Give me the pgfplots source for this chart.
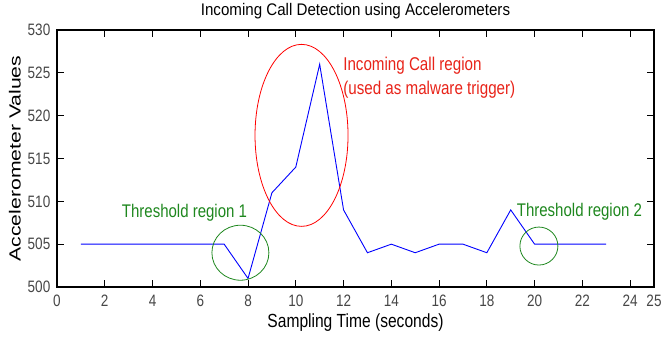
\documentclass[border=0pt]{standalone}
\usepackage{fontspec}
\setmainfont{Liberation Sans}
\newfontfamily\narrow[FakeStretch=0.82]{Liberation Sans}
\newfontfamily\titlefont[FakeStretch=0.9]{Liberation Sans}
\usepackage{pgfplots}
\pgfplotsset{compat=1.18}
\definecolor{ann red}{RGB}{232,35,25}
\definecolor{ann green}{RGB}{30,135,30}
\definecolor{tickgray}{RGB}{70,70,70}
\begin{document}
\begin{tikzpicture}
\begin{axis}[
  scale only axis,
  width=597bp, height=257bp,
  xmin=0, xmax=25, ymin=500, ymax=530,
  xtick={0,2,4,6,8,10,12,14,16,18,20,22,24,25},
  ytick={500,505,510,515,520,525,530},
  tick align=inside,
  major tick length=7bp,
  axis line style={line width=1.1bp},
  tick style={black, line width=0.7bp},
  /pgf/number format/assume math mode=true,
  ticklabel style={font=\narrow\fontsize{16.5bp}{18bp}\selectfont, text=tickgray, inner sep=0pt},
  yticklabel style={anchor=east, xshift=-6.5bp},
  xticklabel style={anchor=north, yshift=-8bp},
  clip=false,
  xlabel={Sampling Time (seconds)},
  xlabel style={font=\narrow\fontsize{19bp}{21bp}\selectfont, at={(axis description cs:0.5,0)}, anchor=base, yshift=-40bp, inner sep=0pt},
  ylabel={\scalebox{1}[0.76]{\fontsize{21.2bp}{23bp}\selectfont Accelerometer Values}},
  ylabel style={at={(axis description cs:-0.0704,0.5)}, anchor=center, inner sep=0pt},
]
\addplot[color=blue, line width=0.9bp] coordinates {
  (1,505) (2,505) (3,505) (4,505) (5,505) (6,505) (7,505)
  (8,501) (9,511) (10,514) (11,526) (12,509) (13,504) (14,505)
  (15,504) (16,505) (17,505) (18,504) (19,509) (20,505) (21,505)
  (22,505) (23,505)
};
\draw[red, line width=0.8bp] (axis cs:10.24,517.7) ellipse [x radius=46.5bp, y radius=91bp];
\draw[ann green, line width=0.8bp] (axis cs:7.68,504.0) ellipse [x radius=28.5bp, y radius=27.5bp];
\draw[ann green, line width=0.8bp] (axis cs:20.18,504.78) ellipse [x radius=19bp, y radius=19bp];
\node[anchor=base west, inner sep=0pt, text=ann red, font=\narrow\fontsize{18.5bp}{20bp}\selectfont] at (axis cs:11.98,525.32) {Incoming Call region};
\node[anchor=base west, inner sep=0pt, text=ann red, font=\narrow\fontsize{18.5bp}{20bp}\selectfont] at (axis cs:11.98,522.52) {(used as malware trigger)};
\node[anchor=base west, inner sep=0pt, text=ann green, font=\narrow\fontsize{18.3bp}{20bp}\selectfont] at (axis cs:2.71,508.09) {Threshold region 1};
\node[anchor=base west, inner sep=0pt, text=ann green, font=\narrow\fontsize{18.3bp}{20bp}\selectfont] at (axis cs:19.25,508.25) {Threshold region 2};
\node[anchor=base, inner sep=0pt, yshift=14bp, font=\titlefont\fontsize{16.8bp}{18bp}\selectfont] at (rel axis cs:0.5,1) {Incoming Call Detection using Accelerometers};
\end{axis}
\pgfresetboundingbox
\path[use as bounding box] (-57bp,-52bp) rectangle (605bp,287bp);
\end{tikzpicture}
\end{document}
